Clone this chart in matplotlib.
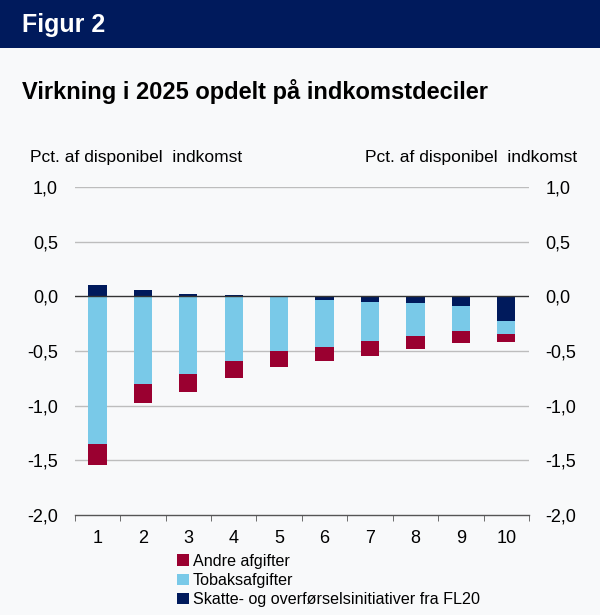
import matplotlib
matplotlib.use("Agg")
import matplotlib.pyplot as plt
import numpy as np
from matplotlib.patches import Rectangle, Patch

plt.rcParams['font.family'] = ['Liberation Sans', 'DejaVu Sans']

deciles = ['1', '2', '3', '4', '5', '6', '7', '8', '9', '10']
skatte = [0.10, 0.06, 0.02, 0.01, -0.01, -0.03, -0.05, -0.06, -0.09, -0.23]
tobak = [-1.35, -0.80, -0.71, -0.59, -0.49, -0.43, -0.36, -0.30, -0.23, -0.11]
andre = [-0.19, -0.175, -0.165, -0.16, -0.15, -0.13, -0.135, -0.125, -0.107, -0.076]
yticks = [1.0, 0.5, 0.0, -0.5, -1.0, -1.5, -2.0]
ytick_labels = ['1,0', '0,5', '0,0', '-0,5', '-1,0', '-1,5', '-2,0']

NAVY = '#001a5c'
LIGHT = '#79c9e8'
RED = '#9a0030'
BG = '#f8f9fa'

fig = plt.figure(figsize=(6, 6.15), dpi=100, facecolor=BG)
fig.patches.append(Rectangle((0, 1 - 48/615), 1, 48/615, transform=fig.transFigure,
                             facecolor=NAVY, edgecolor='none', zorder=0))
fig.text(22/600, 1 - 25/615, 'Figur 2', color='white', fontsize=18, fontweight='bold',
         va='center', ha='left')
fig.text(22/600, 1 - 91/615, 'Virkning i 2025 opdelt på indkomstdeciler', color='black',
         fontsize=17, fontweight='bold', va='center', ha='left')

ax = fig.add_axes([74.7/600, 1 - 515/615, (529 - 74.7)/600, (515 - 187)/615])
ax.set_facecolor(BG)
x = np.arange(1, len(deciles) + 1)
sk = np.array(skatte)
tb = np.array(tobak)
an = np.array(andre)
base = np.minimum(sk, 0)
w = 0.40
ax.bar(x, sk, width=w, color=NAVY, zorder=3)
ax.bar(x, tb, width=w, bottom=base, color=LIGHT, zorder=3)
ax.bar(x, an, width=w, bottom=base + tb, color=RED, zorder=3)

ax.set_xlim(0.5, len(deciles) + 0.5)
ax.set_ylim(-2.0, 1.0)
for yv in yticks:
    if yv == 0.0:
        ax.axhline(yv, color='#333333', lw=1.0, zorder=4)
    elif yv > -2.0:
        ax.axhline(yv, color='#bdbdbd', lw=1.0, zorder=1)

for s in ['top', 'left', 'right']:
    ax.spines[s].set_visible(False)
ax.spines['bottom'].set_color('#555555')
ax.spines['bottom'].set_linewidth(1.0)

ax.set_yticks(yticks)
ax.set_yticklabels(ytick_labels)
ax.tick_params(axis='y', length=0, pad=12, labelsize=13, left=True, right=True,
               labelleft=True, labelright=True)
ax.set_xticks(x)
ax.set_xticklabels(deciles)
ax.tick_params(axis='x', which='major', length=0, pad=11, labelsize=13)
ax.set_xticks(np.arange(0.5, len(deciles) + 1, 1.0), minor=True)
ax.tick_params(axis='x', which='minor', length=4, color='#555555', direction='out')

fig.text(30/600, 1 - 157/615, 'Pct. af disponibel  indkomst', fontsize=12.5, ha='left', va='center')
fig.text(577/600, 1 - 157/615, 'Pct. af disponibel  indkomst', fontsize=12.5, ha='right', va='center')

handles = [Patch(facecolor=RED), Patch(facecolor=LIGHT), Patch(facecolor=NAVY)]
labels = ['Andre afgifter', 'Tobaksafgifter', 'Skatte- og overførselsinitiativer fra FL20']
fig.legend(handles, labels, loc='upper left', bbox_to_anchor=(177/600, 1 - 554/615),
           frameon=False, fontsize=11.6, handlelength=0.75, handleheight=0.75,
           handletextpad=0.25, labelspacing=0.25, borderaxespad=0, borderpad=0)

fig.savefig('out.png', dpi=100, facecolor=BG)
